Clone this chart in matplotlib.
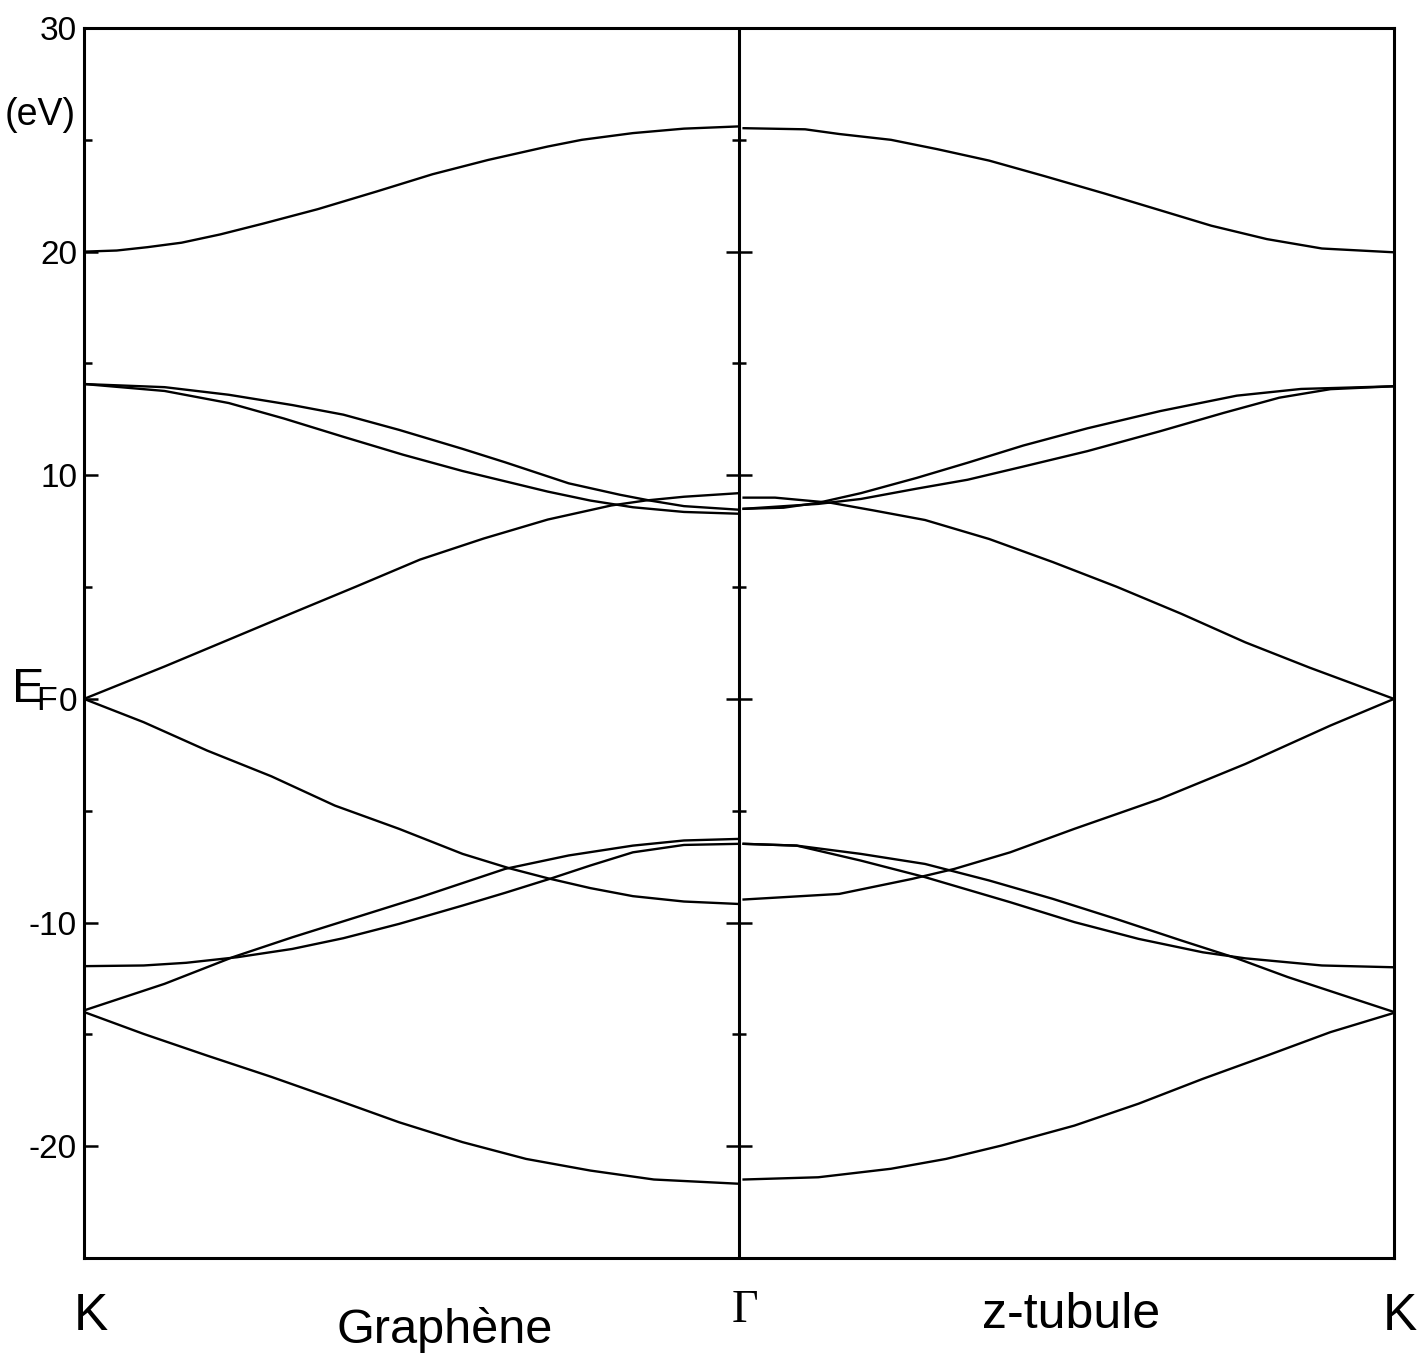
import matplotlib
matplotlib.use("Agg")
import matplotlib.pyplot as plt
import matplotlib.font_manager as fm
import numpy as np

# ---------------- data ----------------
# Left panel: K (0) -> Gamma (1), "Graphène"
L_top_k = [0, 0.05, 0.097, 0.149, 0.208, 0.273, 0.357, 0.448, 0.532, 0.617, 0.708, 0.760, 0.838, 0.916, 1.0]
L_top_E = [20.0, 20.05, 20.2, 20.4, 20.77, 21.25, 21.9, 22.7, 23.46, 24.1, 24.7, 25.0, 25.3, 25.5, 25.6]

L_s1_k = [0, 0.123, 0.221, 0.318, 0.396, 0.481, 0.578, 0.643, 0.740, 0.818, 0.864, 0.916, 1.0]
L_s1_E = [14.08, 13.94, 13.6, 13.14, 12.71, 12.03, 11.18, 10.58, 9.64, 9.13, 8.87, 8.62, 8.46]

L_s2_k = [0, 0.123, 0.221, 0.305, 0.396, 0.487, 0.578, 0.643, 0.708, 0.773, 0.838, 0.916, 1.0]
L_s2_E = [14.08, 13.77, 13.23, 12.54, 11.72, 10.92, 10.19, 9.73, 9.27, 8.87, 8.57, 8.36, 8.28]

L_up0_k = [0, 0.123, 0.221, 0.318, 0.416, 0.513, 0.610, 0.708, 0.805, 0.857, 0.916, 1.0]
L_up0_E = [0.0, 1.45, 2.65, 3.84, 5.03, 6.23, 7.17, 8.02, 8.65, 8.87, 9.04, 9.2]

L_dn0_k = [0, 0.091, 0.188, 0.286, 0.383, 0.481, 0.578, 0.649, 0.708, 0.773, 0.838, 0.916, 1.0]
L_dn0_E = [0.0, -1.04, -2.31, -3.46, -4.77, -5.81, -6.93, -7.57, -8.02, -8.46, -8.82, -9.06, -9.17]

L_m12_k = [0, 0.091, 0.156, 0.234, 0.318, 0.396, 0.481, 0.578, 0.643, 0.714, 0.773, 0.838, 0.916, 1.0]
L_m12_E = [-11.95, -11.92, -11.8, -11.55, -11.18, -10.7, -10.06, -9.24, -8.67, -8.02, -7.45, -6.86, -6.53, -6.48]

L_m14_k = [0, 0.123, 0.227, 0.318, 0.416, 0.513, 0.643, 0.740, 0.838, 0.916, 1.0]
L_m14_E = [-13.93, -12.74, -11.55, -10.66, -9.76, -8.87, -7.6, -7.0, -6.56, -6.33, -6.26]

L_bot_k = [0, 0.091, 0.188, 0.286, 0.383, 0.481, 0.578, 0.675, 0.773, 0.870, 1.0]
L_bot_E = [-14.0, -14.98, -15.95, -16.9, -17.9, -18.93, -19.82, -20.57, -21.09, -21.49, -21.68]

# Right panel: Gamma (0) -> K (1), "z-tubule"
R_top_k = [0.007, 0.101, 0.153, 0.232, 0.303, 0.382, 0.466, 0.558, 0.643, 0.721, 0.806, 0.890, 1.0]
R_top_E = [25.52, 25.47, 25.26, 25.0, 24.58, 24.07, 23.38, 22.6, 21.85, 21.16, 20.56, 20.14, 19.97]

R_up1_k = [0.007, 0.068, 0.121, 0.186, 0.271, 0.349, 0.434, 0.532, 0.643, 0.760, 0.858, 1.0]
R_up1_E = [8.5, 8.55, 8.77, 9.2, 9.88, 10.56, 11.33, 12.1, 12.87, 13.56, 13.86, 13.98]

R_up2_k = [0.007, 0.121, 0.186, 0.271, 0.349, 0.434, 0.532, 0.643, 0.740, 0.825, 0.903, 1.0]
R_up2_E = [8.5, 8.72, 8.94, 9.4, 9.8, 10.39, 11.08, 11.97, 12.79, 13.47, 13.85, 13.98]

R_dn9_k = [0.007, 0.055, 0.140, 0.205, 0.284, 0.382, 0.479, 0.577, 0.675, 0.773, 0.871, 1.0]
R_dn9_E = [9.0, 9.0, 8.77, 8.43, 8.0, 7.15, 6.12, 5.01, 3.81, 2.53, 1.4, 0.0]

R_m9_k = [0.007, 0.153, 0.264, 0.329, 0.414, 0.512, 0.643, 0.773, 0.903, 1.0]
R_m9_E = [-8.97, -8.72, -8.05, -7.6, -6.86, -5.81, -4.47, -2.91, -1.19, 0.0]

R_a_k = [0.007, 0.088, 0.186, 0.284, 0.382, 0.479, 0.577, 0.675, 0.760, 0.838, 0.923, 1.0]
R_a_E = [-6.48, -6.56, -6.93, -7.38, -8.12, -8.94, -9.85, -10.8, -11.6, -12.44, -13.26, -14.0]

R_b_k = [0.007, 0.088, 0.186, 0.284, 0.414, 0.512, 0.610, 0.708, 0.773, 0.890, 1.0]
R_b_E = [-6.48, -6.56, -7.23, -7.97, -9.09, -9.98, -10.73, -11.33, -11.6, -11.92, -12.0]

R_bot_k = [0.007, 0.121, 0.232, 0.316, 0.401, 0.512, 0.610, 0.708, 0.806, 0.903, 1.0]
R_bot_E = [-21.49, -21.39, -21.01, -20.57, -19.97, -19.08, -18.1, -16.99, -15.95, -14.9, -14.04]

y_major = [-20, -10, 0, 10, 20, 30]
y_major_labels = ["-20", "-10", "0", "10", "20", "30"]
y_minor = [-15, -5, 5, 15, 25]

left_bands = [(L_top_k, L_top_E), (L_s1_k, L_s1_E), (L_s2_k, L_s2_E), (L_up0_k, L_up0_E),
              (L_dn0_k, L_dn0_E), (L_m12_k, L_m12_E), (L_m14_k, L_m14_E), (L_bot_k, L_bot_E)]
right_bands = [(R_top_k, R_top_E), (R_up1_k, R_up1_E), (R_up2_k, R_up2_E), (R_dn9_k, R_dn9_E),
               (R_m9_k, R_m9_E), (R_a_k, R_a_E), (R_b_k, R_b_E), (R_bot_k, R_bot_E)]

# ---------------- fonts ----------------
names = {f.name for f in fm.fontManager.ttflist}
tick_family = "Liberation Sans Narrow" if "Liberation Sans Narrow" in names else "Liberation Sans"
sans = "Liberation Sans"
serif = "Liberation Serif"
plt.rcParams["mathtext.fontset"] = "custom"
plt.rcParams["mathtext.rm"] = sans

W, H = 1423, 1354
fig = plt.figure(figsize=(W / 100, H / 100), dpi=100)
x0, x1, ytop, ybot = 84, 1394, 28, 1258
ax = fig.add_axes([x0 / W, 1 - ybot / H, (x1 - x0) / W, (ybot - ytop) / H])

LW = 1.7
for k, E in left_bands:
    ax.plot(np.asarray(k), E, color="black", lw=LW, solid_joinstyle="round")
for k, E in right_bands:
    ax.plot(1 + np.asarray(k), E, color="black", lw=LW, solid_joinstyle="round")

ax.set_xlim(0, 2)
ax.set_ylim(-25, 30)
ax.set_xticks([])
ax.set_yticks(y_major)
ax.set_yticklabels(y_major_labels, family=tick_family, fontsize=24)
ax.set_yticks(y_minor, minor=True)
ax.tick_params(axis="y", which="major", direction="in", length=10, width=1.8, pad=5)
ax.tick_params(axis="y", which="minor", direction="in", length=6, width=1.8)
for s in ax.spines.values():
    s.set_linewidth(2.2)

# middle Gamma line with ticks on both sides
ax.axvline(1, color="black", lw=2.2)
ax.plot([1] * len(y_major), y_major, ls="none", marker="_", ms=19, mew=1.8, color="black")
ax.plot([1] * len(y_minor), y_minor, ls="none", marker="_", ms=10, mew=1.8, color="black")

def fx(x):
    return x / W

def fy(y):
    return 1 - y / H

fig.text(fx(40), fy(115), "(eV)", family=sans, fontsize=27, ha="center", va="center")
fig.text(fx(11), fy(703), r"E$\!_{\mathrm{F}}$", family=sans, fontsize=35, ha="left", va="baseline")

fig.text(fx(91), fy(1330), "K", family=sans, fontsize=37, ha="center", va="baseline")
fig.text(fx(745), fy(1322), "Γ", family=serif, fontsize=33, ha="center", va="baseline")
fig.text(fx(445), fy(1343), "Graphène", family=sans, fontsize=35, ha="center", va="baseline")
fig.text(fx(1071), fy(1328), "z-tubule", family=sans, fontsize=36, ha="center", va="baseline")
fig.text(fx(1400), fy(1330), "K", family=sans, fontsize=37, ha="center", va="baseline")

fig.savefig("out.png", dpi=100)
